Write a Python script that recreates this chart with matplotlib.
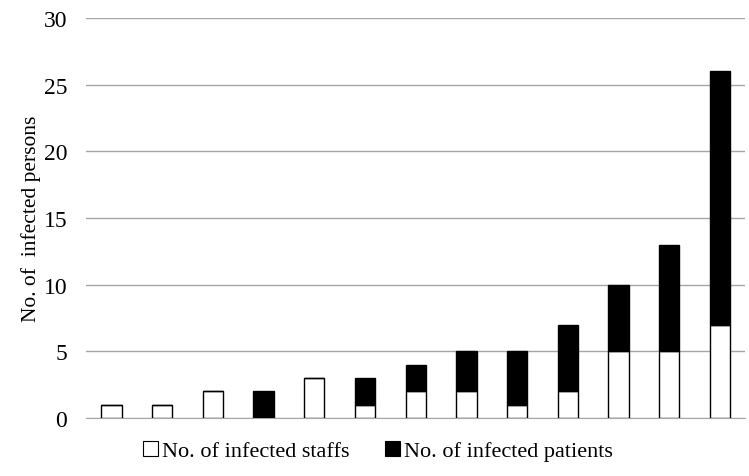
import matplotlib
matplotlib.use("Agg")
import matplotlib.pyplot as plt
from matplotlib.patches import Patch

plt.rcParams['font.family'] = ['Liberation Serif', 'DejaVu Serif']

categories = list(range(1, 14))
staffs = [1, 1, 2, 0, 3, 1, 2, 2, 1, 2, 5, 5, 7]
patients = [0, 0, 0, 2, 0, 2, 2, 3, 4, 5, 5, 8, 19]
yticks = [0, 5, 10, 15, 20, 25, 30]

fig = plt.figure(figsize=(7.49, 4.77), dpi=100)
ax = fig.add_axes([0.115, 0.1216, 0.88, 0.8384])

x = list(range(len(categories)))
ax.bar(x, staffs, width=0.4, color='white', edgecolor='black', linewidth=1, zorder=3)
ax.bar(x, patients, width=0.4, bottom=staffs, color='black', edgecolor='black', linewidth=1, zorder=3)

ax.set_xlim(-0.5, len(categories) - 0.5)
ax.set_ylim(0, 30)
ax.set_yticks(yticks)
ax.set_yticklabels([str(v) for v in yticks], fontsize=17)
ax.set_xticks([])
ax.yaxis.grid(True, color='#a6a6a6', linewidth=1, zorder=0)
for s in ['top', 'right', 'left']:
    ax.spines[s].set_visible(False)
ax.spines['bottom'].set_color('#a6a6a6')
ax.tick_params(axis='y', length=0, pad=13.7)
ax.set_ylabel('No. of  infected persons', fontsize=15.5)
ax.yaxis.set_label_coords(-0.068, 0.5)

handles = [Patch(facecolor='white', edgecolor='black', linewidth=0.8, label='No. of infected staffs'),
           Patch(facecolor='black', edgecolor='black', linewidth=0.8, label='No. of infected patients')]
fig.legend(handles=handles, loc='center', bbox_to_anchor=(0.505, 0.052), ncol=2, frameon=False,
           fontsize=16, handlelength=0.65, handleheight=0.65, handletextpad=0.2, columnspacing=1.6)

fig.savefig('out.png', dpi=100)
